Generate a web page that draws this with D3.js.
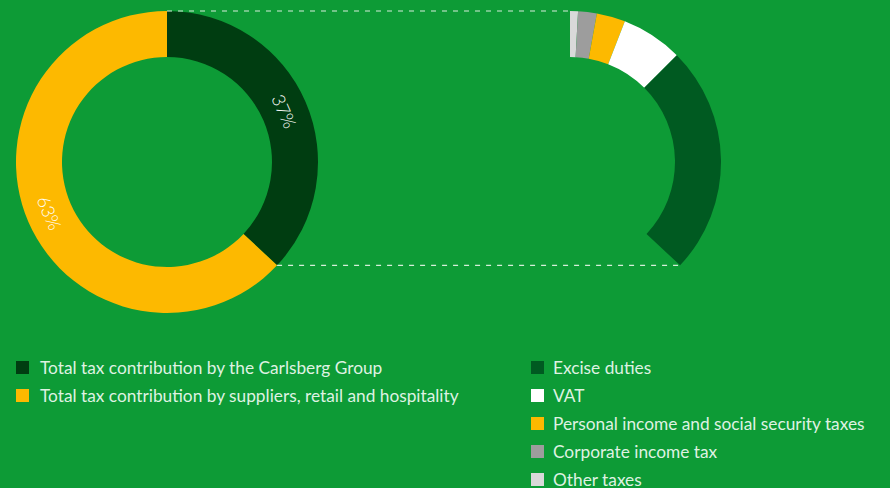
<!DOCTYPE html>
<html><head><meta charset="utf-8">
<script src="https://cdn.jsdelivr.net/npm/d3@7"></script>
<style>
html,body{margin:0;padding:0;background:#0d9b36;}
svg{display:block;}
</style></head>
<body>
<svg id="chart" width="890" height="488"></svg>
<script>
// ---- data ----
const mainCategories = ["Total tax contribution by the Carlsberg Group", "Total tax contribution by suppliers, retail and hospitality"];
const mainValues = [37, 63];
const mainLabels = ["37%", "63%"];
const mainColors = ["#003d11", "#fdb900"];

const subCategories = ["Other taxes", "Corporate income tax", "Personal income and social security taxes", "VAT", "Excise duties"];
const subValues = [2.3, 5.4, 8.3, 17.8, 66.2];
const subColors = ["#d9d9d9", "#9d9d9d", "#fdb900", "#ffffff", "#005a21"];

const legendRightOrder = ["Excise duties", "VAT", "Personal income and social security taxes", "Corporate income tax", "Other taxes"];

// ---- layout ----
const svg = d3.select("#chart");
const outerR = 151, innerR = 105;
const leftC = {x: 167, y: 162};
const rightC = {x: 570, y: 162};

const mainPie = d3.pie().sort(null).value(d => d)(mainValues);
const arc = d3.arc().innerRadius(innerR).outerRadius(outerR);

const gL = svg.append("g").attr("transform", `translate(${leftC.x},${leftC.y})`);
gL.selectAll("path").data(mainPie).join("path")
  .attr("d", arc).attr("fill", (d, i) => mainColors[i]);

// labels along arcs
const midR = (innerR + outerR) / 2;
gL.selectAll("text").data(mainPie).join("text")
  .attr("transform", d => {
    const a = (d.startAngle + d.endAngle) / 2;
    const x = midR * Math.sin(a), y = -midR * Math.cos(a);
    let deg = a * 180 / Math.PI;
    if (deg > 180) deg -= 180;
    return `translate(${x},${y}) rotate(${deg})`;
  })
  .attr("text-anchor", "middle").attr("dominant-baseline", "central")
  .attr("font-family", "Lato, sans-serif").attr("font-size", 18).attr("font-weight", 300)
  .attr("fill", "#ffffff")
  .text((d, i) => mainLabels[i]);

// sub donut spanning Carlsberg share angle
const span = mainPie[0].endAngle - mainPie[0].startAngle;
const subPie = d3.pie().sort(null).value(d => d).startAngle(0).endAngle(span)(subValues);
const gR = svg.append("g").attr("transform", `translate(${rightC.x},${rightC.y})`);
gR.selectAll("path").data(subPie).join("path")
  .attr("d", arc).attr("fill", (d, i) => subColors[i]);

// dashed connectors
const endA = mainPie[0].endAngle;
const conn = [
  {x1: leftC.x, y1: leftC.y - outerR, x2: rightC.x, y2: rightC.y - outerR},
  {x1: leftC.x + outerR * Math.sin(endA), y1: leftC.y - outerR * Math.cos(endA),
   x2: rightC.x + outerR * Math.sin(endA), y2: rightC.y - outerR * Math.cos(endA)}
];
svg.selectAll("line.conn").data(conn).join("line").attr("class", "conn")
  .attr("x1", d => d.x1).attr("y1", d => d.y1).attr("x2", d => d.x2).attr("y2", d => d.y2)
  .attr("stroke", "#d6eed9").attr("stroke-width", 1.2).attr("stroke-dasharray", "5,6");

// legends
const rowH = 28;
const fs = 17.3;
const legL = svg.append("g").attr("transform", "translate(16,361)");
mainCategories.forEach((c, i) => {
  const g = legL.append("g").attr("transform", `translate(0,${i * rowH})`);
  g.append("rect").attr("width", 13).attr("height", 13).attr("fill", mainColors[i]);
  g.append("text").attr("x", 24).attr("y", 6.5).attr("dominant-baseline", "central")
    .attr("font-family", "Lato, sans-serif").attr("font-size", fs).attr("fill", "#dff2e2").text(c);
});
const legR = svg.append("g").attr("transform", "translate(531,361)");
legendRightOrder.forEach((c, i) => {
  const idx = subCategories.indexOf(c);
  const g = legR.append("g").attr("transform", `translate(0,${i * rowH})`);
  g.append("rect").attr("width", 13).attr("height", 13).attr("fill", subColors[idx]);
  g.append("text").attr("x", 22).attr("y", 6.5).attr("dominant-baseline", "central")
    .attr("font-family", "Lato, sans-serif").attr("font-size", fs).attr("fill", "#dff2e2").text(c);
});
</script>
</body></html>
